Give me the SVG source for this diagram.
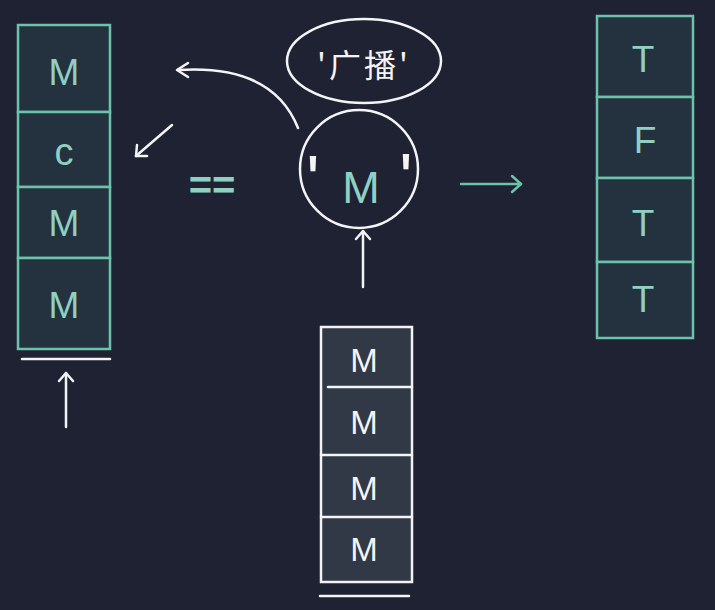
<svg xmlns="http://www.w3.org/2000/svg" width="715" height="610" viewBox="0 0 715 610">
<defs>
<style>
.bg{fill:#1e2233}
.tc{fill:#243240;stroke:#6cc3aa;stroke-width:2.5}
.wc{fill:#313846;stroke:#f2f2f2;stroke-width:2.5}
.tt{fill:#8fd0c2;font-family:"Liberation Sans","DejaVu Sans",sans-serif;font-size:37px;text-anchor:middle}
.wt{fill:#f4f4f4;font-family:"Liberation Sans","DejaVu Sans",sans-serif;font-size:33px;text-anchor:middle}
.q{fill:#f4f4f4;font-family:"Liberation Sans","DejaVu Sans",sans-serif;font-size:70px;text-anchor:middle}
.wl{stroke:#f4f4f4;stroke-width:2.5;fill:none;stroke-linecap:round;stroke-linejoin:round}
.gl{stroke:#6cc3aa;stroke-width:2.5;fill:none;stroke-linecap:round;stroke-linejoin:round}
</style>
</defs>
<rect class="bg" x="0" y="0" width="715" height="610"/>
<g id="left-array">
<rect class="tc" x="18" y="25" width="92" height="87"/>
<rect class="tc" x="18" y="112" width="92" height="75"/>
<rect class="tc" x="18" y="187" width="92" height="71"/>
<rect class="tc" x="18" y="258" width="92" height="91"/>
<text class="tt" x="64" y="85">M</text>
<text class="tt" x="64" y="165" style="font-size:38px">c</text>
<text class="tt" x="64" y="236">M</text>
<text class="tt" x="64" y="318">M</text>
<line class="wl" x1="22" y1="359" x2="110" y2="359"/>
</g>
<g id="eq">
<text class="tt" x="212" y="199" style="font-size:40px;font-weight:bold">==</text>
</g>
<g id="label-broadcast">
<ellipse class="wl" cx="364" cy="61" rx="77" ry="42"/>
<text x="364" y="77" fill="#f4f4f4" font-family="'Noto Sans CJK SC',sans-serif" font-size="32" letter-spacing="3" text-anchor="middle">'广播'</text>
</g>
<g id="scalar">
<circle class="wl" cx="359" cy="169" r="59"/>
<text class="q" x="313" y="205">'</text>
<text class="tt" x="361" y="203" style="font-size:45px">M</text>
<text class="q" x="406" y="203">'</text>
</g>
<g id="bottom-array">
<rect class="wc" x="321" y="327" width="91" height="255"/>
<line class="wl" x1="328" y1="387" x2="412" y2="387"/>
<line class="wl" x1="321" y1="455" x2="412" y2="455"/>
<line class="wl" x1="321" y1="517" x2="412" y2="517"/>
<text class="wt" x="364" y="372">M</text>
<text class="wt" x="364" y="434">M</text>
<text class="wt" x="364" y="500">M</text>
<text class="wt" x="364" y="561">M</text>
<line class="wl" x1="320" y1="596" x2="409" y2="596"/>
</g>
<g id="result-array">
<rect class="tc" x="597" y="16" width="96" height="81"/>
<rect class="tc" x="597" y="97" width="96" height="81"/>
<rect class="tc" x="597" y="178" width="96" height="84"/>
<rect class="tc" x="597" y="262" width="96" height="76"/>
<text class="tt" x="643" y="72">T</text>
<text class="tt" x="645" y="153">F</text>
<text class="tt" x="643" y="236">T</text>
<text class="tt" x="643" y="312">T</text>
</g>
<g id="connectors">
<path class="wl" d="M298 128 C285 95 255 65 178 70"/>
<path class="wl" d="M188 63 L177 70 L188 77"/>
<line class="wl" x1="172" y1="125" x2="136" y2="156"/>
<path class="wl" d="M137 145 L136 156 L147 156"/>
<line class="wl" x1="66" y1="427" x2="66" y2="373"/>
<path class="wl" d="M59 381 L66 373 L73 381"/>
<line class="wl" x1="363" y1="287" x2="363" y2="231"/>
<path class="wl" d="M356 239 L363 231 L370 239"/>
<line class="gl" x1="461" y1="184" x2="521" y2="184"/>
<path class="gl" d="M512 176 L521 184 L512 192"/>
</g>
</svg>
